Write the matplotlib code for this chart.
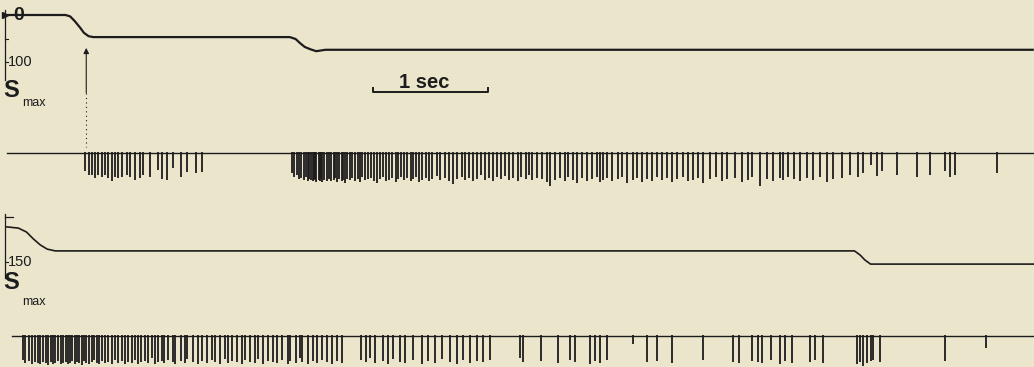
"""
Stretch receptor recording: displacement steps (S) and the spike trains they evoke.
"""

import matplotlib.pyplot as plt

plt.rcParams['font.family'] = ['Liberation Sans', 'DejaVu Sans']

# ---- data (time in s, displacement in units of S, spike size in a.u.) ----

# upper displacement trace
top_t = [0.06, 0.57, 0.61, 0.65, 0.70, 0.73, 0.77, 0.81, 2.52, 2.57, 2.61, 2.65, 2.70, 2.75, 2.83, 8.99]
top_s = [0, 0, 3, 13, 28, 38, 45, 47, 47, 51, 60, 68, 73, 77, 74, 74]

# lower displacement trace
bot_t = [0.06, 0.16, 0.23, 0.29, 0.35, 0.41, 0.48, 7.43, 7.48, 7.52, 7.57, 8.99]
bot_s = [33, 37, 50, 73, 93, 107, 113, 113, 127, 143, 157, 157]

stim_onset = 0.75

# spikes under the upper trace
spk1_t = [
    0.74, 0.77, 0.80, 0.83, 0.85, 0.89, 0.91, 0.94, 0.97, 1.00,
    1.03, 1.06, 1.10, 1.13, 1.17, 1.22, 1.24, 1.30, 1.37, 1.41,
    1.45, 1.50, 1.57, 1.63, 1.70, 1.76,
    2.54, 2.56, 2.58, 2.60, 2.62, 2.64, 2.66, 2.68, 2.69, 2.70,
    2.72, 2.73, 2.74, 2.75, 2.77, 2.78, 2.79, 2.80, 2.82, 2.84,
    2.86, 2.88, 2.90, 2.91, 2.93, 2.95, 2.97, 2.98, 3.00, 3.02,
    3.04, 3.06, 3.09, 3.11, 3.13, 3.15, 3.17, 3.20, 3.23, 3.25,
    3.28, 3.30, 3.33, 3.36, 3.38, 3.41, 3.44, 3.46, 3.49, 3.51,
    3.54, 3.57, 3.59, 3.62, 3.64, 3.67, 3.70, 3.73, 3.76, 3.80,
    3.83, 3.87, 3.90, 3.94, 3.97, 4.02, 4.04, 4.08, 4.11, 4.15,
    4.18, 4.22, 4.25, 4.29, 4.32, 4.36, 4.39, 4.43, 4.46, 4.50,
    4.53, 4.57, 4.60, 4.63, 4.67,
    4.71, 4.76, 4.78, 4.83, 4.87, 4.91, 4.94, 4.98, 5.02, 5.06,
    5.10, 5.15, 5.19, 5.22, 5.24, 5.28, 5.32, 5.37, 5.41, 5.45,
    5.50, 5.54, 5.58, 5.63, 5.67, 5.71, 5.76, 5.80, 5.84, 5.89,
    5.94, 5.98, 6.03, 6.07, 6.11, 6.17, 6.23, 6.28, 6.32, 6.39,
    6.45, 6.50, 6.54, 6.61, 6.67, 6.72, 6.78, 6.81, 6.85, 6.90,
    6.96, 7.02, 7.07, 7.13, 7.19, 7.24, 7.32, 7.39, 7.46, 7.50,
    7.57, 7.63, 7.67, 7.80, 7.97, 8.09, 8.22, 8.26, 8.30, 8.67,
]
spk1_a = [
    18, 22, 22, 25, 22, 24, 22, 25, 28, 24,
    25, 24, 22, 24, 27, 25, 22, 24, 17, 26,
    27, 15, 24, 19, 20, 19,
    20, 24, 22, 26, 25, 27, 24, 28, 26, 27,
    28, 27, 26, 29, 27, 28, 26, 29, 27, 28,
    26, 28, 27, 25, 29, 26, 28, 27, 30, 26,
    27, 25, 28, 26, 29, 24, 27, 26, 25, 28,
    30, 26, 24, 28, 27, 25, 29, 26, 24, 27,
    25, 28, 26, 24, 29, 27, 25, 28, 26, 23,
    27, 25, 28, 31, 26, 24, 27, 25, 28, 26,
    22, 27, 25, 28, 24, 26, 23, 27, 25, 28,
    24, 26, 22, 27, 25,
    26, 29, 33, 27, 25, 28, 24, 27, 30, 25,
    28, 26, 24, 29, 27, 25, 28, 26, 24, 30,
    27, 25, 29, 26, 28, 24, 27, 25, 29, 26,
    24, 28, 27, 25, 30, 26, 24, 28, 26, 25,
    29, 27, 24, 33, 26, 28, 25, 27, 24, 26,
    28, 25, 27, 24, 29, 26, 25, 22, 24, 20,
    12, 23, 18, 22, 24, 22, 18, 24, 22, 20,
]

# spikes under the lower trace
spk2_t = [
    0.20, 0.22, 0.25, 0.28, 0.30, 0.33, 0.35, 0.37, 0.40, 0.42,
    0.44, 0.46, 0.48, 0.50, 0.53, 0.55, 0.57, 0.59, 0.61, 0.63,
    0.65, 0.67, 0.69, 0.71, 0.73, 0.75, 0.77, 0.80, 0.82, 0.84,
    0.86, 0.89, 0.91, 0.94, 0.97, 1.00, 1.03, 1.06, 1.09, 1.11,
    1.15, 1.17, 1.20, 1.23, 1.26, 1.29, 1.32, 1.35, 1.37, 1.41,
    1.43, 1.46, 1.50, 1.52, 1.57, 1.61, 1.63, 1.68, 1.72, 1.76,
    1.80, 1.84, 1.87, 1.91, 1.96, 1.98, 2.02, 2.06, 2.10, 2.13,
    2.17, 2.22, 2.24, 2.29, 2.33, 2.37, 2.41, 2.45, 2.50, 2.52,
    2.57, 2.61, 2.63, 2.68, 2.72, 2.76, 2.80, 2.84, 2.89, 2.93,
    2.97, 3.14, 3.18, 3.22, 3.26, 3.33, 3.37, 3.42, 3.48, 3.52,
    3.59, 3.67, 3.72, 3.78, 3.84, 3.91, 3.97, 4.03, 4.09, 4.15,
    4.20, 4.26, 4.52, 4.55, 4.70, 4.85, 4.96, 5.00, 5.13, 5.17,
    5.22, 5.28, 5.50, 5.63, 5.71, 5.84, 6.11, 6.37, 6.43, 6.54,
    6.59, 6.63, 6.70, 6.78, 6.83, 6.89, 7.04, 7.09, 7.16, 7.45,
    7.48, 7.50, 7.54, 7.57, 7.59, 7.65, 8.22, 8.57,
]
spk2_a = [
    24, 27, 25, 28, 26, 27, 28, 26, 27, 29,
    26, 28, 27, 25, 28, 27, 26, 28, 27, 25,
    28, 26, 27, 29, 25, 27, 28, 26, 24, 27,
    28, 25, 27, 26, 28, 24, 27, 25, 28, 26,
    27, 24, 28, 26, 25, 27, 22, 28, 26, 25,
    27, 24, 26, 28, 25, 27, 23, 26, 28, 25,
    27, 24, 26, 28, 23, 27, 25, 26, 28, 24,
    26, 27, 23, 28, 25, 26, 27, 24, 28, 25,
    27, 22, 26, 28, 25, 27, 24, 26, 28, 25,
    27, 24, 26, 22, 27, 25, 28, 23, 26, 27,
    24, 28, 25, 27, 23, 26, 28, 24, 27, 25,
    26, 24, 22, 26, 25, 27, 24, 26, 28, 25,
    27, 24, 8, 26, 25, 27, 24, 26, 27, 25,
    26, 27, 24, 28, 25, 27, 26, 24, 27, 28,
    26, 30, 27, 25, 24, 26, 25, 12,
]

assert len(spk1_t) == len(spk1_a)
assert len(spk2_t) == len(spk2_a)

# ---- layout ----
W, H = 1034, 367
PX_PER_SEC = 115.0
T_END = W / PX_PER_SEC
BG = '#ebe5cc'
INK = '#1c1c1c'

fig = plt.figure(figsize=(W / 100, H / 100), dpi=100)
fig.patch.set_facecolor(BG)


def strip(top_px, bottom_px, zero_px, px_per_unit):
    # one full-width axes band; y grows downward like the paper record
    ax = fig.add_axes([0, 1 - bottom_px / H, 1, (bottom_px - top_px) / H])
    ax.set_xlim(0, T_END)
    ax.set_ylim((bottom_px - zero_px) / px_per_unit, (top_px - zero_px) / px_per_unit)
    ax.axis('off')
    ax.patch.set_alpha(0)
    return ax


ax1 = strip(0, 130, 15, 0.47)
ax2 = strip(130, 200, 153, 1.0)
ax3 = strip(200, 322, 217, 0.30)
ax4 = strip(322, 367, 336, 1.0)

ax_x = 5 / PX_PER_SEC  # where the little S scales sit
tick_short = 8 / PX_PER_SEC
tick_long = 13 / PX_PER_SEC

# upper displacement
ax1.plot(top_t, top_s, color=INK, lw=1.6, solid_capstyle='butt')
ax1.plot([ax_x, ax_x], [-10, 138], color=INK, lw=0.9)
ax1.plot([ax_x], [0], marker='>', ms=4, color=INK)
ax1.plot([ax_x, tick_short], [50, 50], color=INK, lw=0.8)
ax1.plot([ax_x, tick_short], [100, 100], color=INK, lw=0.8)
ax1.text(0.16, 0, '0', ha='center', va='center', fontsize=14, fontweight='bold', color=INK)
ax1.text(0.07, 100, '100', ha='left', va='center', fontsize=10.5, color=INK)
ax1.text(0.03, 160, 'S', ha='left', va='center', fontsize=17, fontweight='bold', color=INK)
ax1.text(0.19, 187, 'max', ha='left', va='center', fontsize=9, color=INK)

# stimulus arrow
ax1.annotate('', xy=(stim_onset, 70), xytext=(stim_onset, 166),
             arrowprops=dict(arrowstyle='-|>', lw=0.8, color=INK, mutation_scale=8,
                             shrinkA=0, shrinkB=0))
ax1.plot([stim_onset, stim_onset], [166, 281], color=INK, lw=0.8,
         linestyle=(0, (1, 3)), clip_on=False)

# 1 sec calibration bar
bar_x0 = 3.24
ax1.plot([bar_x0, bar_x0, bar_x0 + 1.0, bar_x0 + 1.0], [155, 163, 163, 155],
         color=INK, lw=1.4)
ax1.text(3.69, 155, '1 sec', ha='center', va='baseline', fontsize=14.5,
         fontweight='bold', color=INK)

# upper spike train
ax2.plot([0.06, T_END], [0, 0], color=INK, lw=1.0)
ax2.vlines(spk1_t, -1, spk1_a, color=INK, lw=1.3)

# lower displacement
ax3.plot(bot_t, bot_s, color=INK, lw=1.2)
ax3.plot([ax_x, ax_x], [-10, 203], color=INK, lw=0.9)
ax3.plot([ax_x, tick_long], [0, 0], color=INK, lw=0.9)
ax3.plot([ax_x, tick_short], [150, 150], color=INK, lw=0.8)
ax3.text(0.07, 150, '150', ha='left', va='center', fontsize=10.5, color=INK)
ax3.text(0.03, 217, 'S', ha='left', va='center', fontsize=17, fontweight='bold', color=INK)
ax3.text(0.19, 283, 'max', ha='left', va='center', fontsize=9, color=INK)

# lower spike train
ax4.plot([0.10, T_END], [0, 0], color=INK, lw=1.0)
ax4.vlines(spk2_t, -1, spk2_a, color=INK, lw=1.3)

plt.savefig('out.png', dpi=100, facecolor=BG)
